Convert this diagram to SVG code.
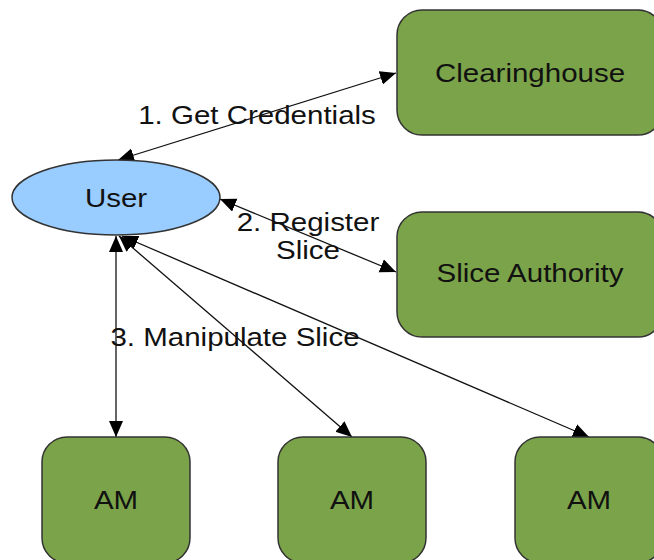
<svg xmlns="http://www.w3.org/2000/svg" width="654" height="560" viewBox="0 0 654 560">
<style>
.box{fill:#7ba349;stroke:#333;stroke-width:1.5}
.ell{fill:#99ccff;stroke:#333;stroke-width:1.5}
.lbl{font-family:"Liberation Sans",Arial,sans-serif;font-size:25px;fill:#111;text-anchor:middle}
.edge{fill:none;stroke:#111;stroke-width:1.3}
</style>
<defs>
<marker id="ah" markerUnits="userSpaceOnUse" markerWidth="17" markerHeight="15" refX="16" refY="7" orient="auto-start-reverse">
<path d="M0,0 L16,7 L0,14 z" fill="#000"/>
</marker>
</defs>
<rect width="654" height="560" fill="#fff"/>
<g id="connectors">
<line class="edge" x1="118" y1="160" x2="396" y2="73" marker-start="url(#ah)" marker-end="url(#ah)"/>
<line class="edge" x1="220" y1="199" x2="396" y2="272" marker-start="url(#ah)" marker-end="url(#ah)"/>
<line class="edge" x1="116" y1="236" x2="116" y2="437" marker-start="url(#ah)" marker-end="url(#ah)"/>
<line class="edge" x1="119" y1="236" x2="352" y2="437" marker-start="url(#ah)" marker-end="url(#ah)"/>
<line class="edge" x1="122" y1="236" x2="589" y2="437" marker-start="url(#ah)" marker-end="url(#ah)"/>
<text class="lbl" transform="translate(257,124) scale(1.18,1)">1. Get Credentials</text>
<text class="lbl" transform="translate(308,231) scale(1.18,1)">2. Register</text>
<text class="lbl" transform="translate(308,259) scale(1.18,1)">Slice</text>
<text class="lbl" transform="translate(235,346) scale(1.18,1)">3. Manipulate Slice</text>
</g>
<g id="clearinghouse">
<rect class="box" x="397" y="10" width="266" height="125" rx="25" ry="25"/>
<text class="lbl" transform="translate(530,82) scale(1.18,1)">Clearinghouse</text>
</g>
<g id="user">
<ellipse class="ell" cx="116" cy="197.5" rx="104" ry="37.5"/>
<text class="lbl" transform="translate(116,207) scale(1.18,1)">User</text>
</g>
<g id="slice-authority">
<rect class="box" x="397" y="212" width="266" height="125" rx="25" ry="25"/>
<text class="lbl" transform="translate(530,282) scale(1.18,1)">Slice Authority</text>
</g>
<g id="am1">
<rect class="box" x="42" y="437" width="148" height="126" rx="25" ry="25"/>
<text class="lbl" transform="translate(116,509) scale(1.18,1)">AM</text>
</g>
<g id="am2">
<rect class="box" x="278" y="437" width="148" height="126" rx="25" ry="25"/>
<text class="lbl" transform="translate(352,509) scale(1.18,1)">AM</text>
</g>
<g id="am3">
<rect class="box" x="515" y="437" width="148" height="126" rx="25" ry="25"/>
<text class="lbl" transform="translate(589,509) scale(1.18,1)">AM</text>
</g>
</svg>
